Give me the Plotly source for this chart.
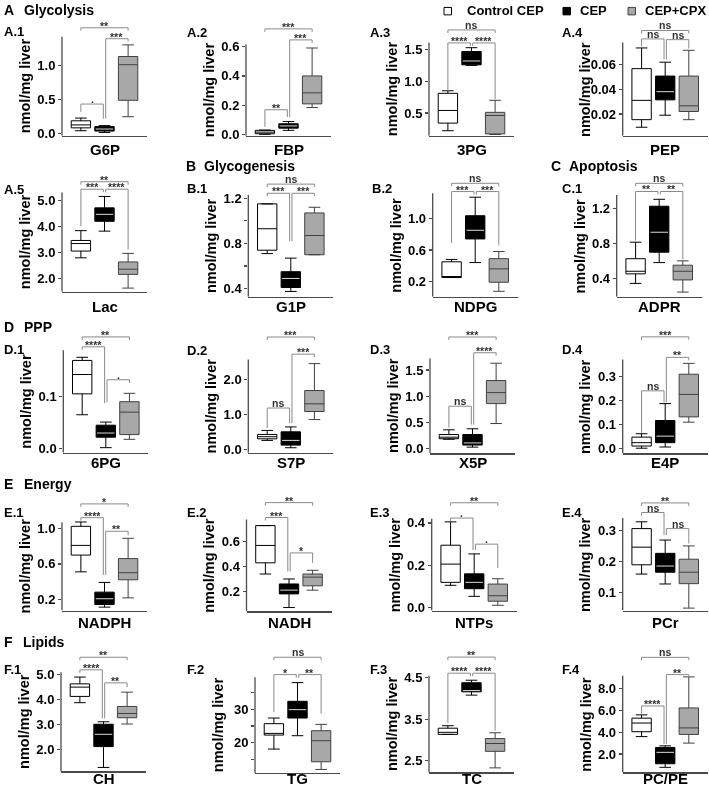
import plotly.graph_objects as go

W, H = 709, 794
FONT = "Arial, Liberation Sans, sans-serif"

# ---------------- data ----------------
panel_ids = ["A.1", "A.2", "A.3", "A.4", "A.5", "B.1", "B.2", "C.1",
             "D.1", "D.2", "D.3", "D.4", "E.1", "E.2", "E.3", "E.4",
             "F.1", "F.2", "F.3", "F.4"]
metabolites = ["G6P", "FBP", "3PG", "PEP", "Lac", "G1P", "NDPG", "ADPR",
               "6PG", "S7P", "X5P", "E4P", "NADPH", "NADH", "NTPs", "PCr",
               "CH", "TG", "TC", "PC/PE"]
group_names = ["Control CEP", "CEP", "CEP+CPX"]

# (lower whisker, q1, median, q3, upper whisker)
control_cep = [
    (0.045, 0.087, 0.13, 0.19, 0.23), (0.003, 0.007, 0.018, 0.03, 0.032),
    (0.22, 0.34, 0.54, 0.81, 0.85), (0.0093, 0.0154, 0.031, 0.0566, 0.0733),
    (2.80, 3.06, 3.35, 3.47, 3.85), (0.71, 0.74, 0.93, 1.15, 1.15),
    (0.25, 0.25, 0.26, 0.45, 0.48), (0.34, 0.45, 0.48, 0.625, 0.815),
    (0.065, 0.105, 0.142, 0.169, 0.175), (0.255, 0.30, 0.36, 0.425, 0.54),
    (0.18, 0.19, 0.22, 0.27, 0.36), (0.002, 0.011, 0.025, 0.048, 0.062),
    (0.51, 0.70, 0.81, 1.026, 1.075), (0.34, 0.43, 0.57, 0.73, 0.73),
    (0.106, 0.12, 0.206, 0.295, 0.405), (0.16, 0.19, 0.247, 0.307, 0.329),
    (3.88, 4.13, 4.50, 4.63, 4.90), (18.1, 22.3, 22.8, 25.7, 27.4),
    (3.13, 3.13, 3.18, 3.28, 3.34), (3.6, 4.05, 4.85, 5.3, 5.6),
]
cep = [
    (0.02, 0.04, 0.07, 0.105, 0.12), (0.03, 0.045, 0.06, 0.075, 0.09),
    (1.25, 1.26, 1.32, 1.47, 1.53), (0.019, 0.0314, 0.038, 0.0506, 0.0618),
    (3.83, 4.21, 4.48, 4.73, 5.17), (0.375, 0.41, 0.49, 0.55, 0.67),
    (0.44, 0.74, 0.85, 1.035, 1.27), (0.58, 0.70, 0.93, 1.23, 1.31),
    (0.002, 0.022, 0.030, 0.045, 0.051), (0.045, 0.12, 0.255, 0.50, 0.64),
    (0.03, 0.07, 0.11, 0.27, 0.38), (0.007, 0.025, 0.052, 0.117, 0.187),
    (0.11, 0.14, 0.205, 0.28, 0.39), (0.07, 0.18, 0.21, 0.26, 0.30),
    (0.054, 0.09, 0.12, 0.16, 0.254), (0.128, 0.166, 0.186, 0.227, 0.27),
    (1.30, 2.13, 2.62, 3.02, 3.12), (22.1, 27.4, 29.9, 32.4, 38.0),
    (4.08, 4.16, 4.19, 4.38, 4.44), (0.77, 1.1, 2.15, 2.6, 2.75),
]
cep_cpx = [
    (0.25, 0.49, 1.01, 1.13, 1.30), (0.185, 0.21, 0.285, 0.40, 0.59),
    (0.16, 0.17, 0.46, 0.51, 0.70), (0.0154, 0.022, 0.0266, 0.0506, 0.0714),
    (1.63, 2.16, 2.36, 2.64, 2.97), (0.70, 0.70, 0.87, 1.07, 1.12),
    (0.075, 0.19, 0.36, 0.49, 0.58), (0.24, 0.38, 0.48, 0.55, 0.60),
    (0.018, 0.027, 0.070, 0.090, 0.106), (0.85, 1.08, 1.30, 1.68, 2.45),
    (0.48, 0.86, 1.07, 1.30, 1.63), (0.11, 0.132, 0.225, 0.309, 0.354),
    (0.215, 0.42, 0.50, 0.66, 0.89), (0.21, 0.245, 0.315, 0.34, 0.37),
    (0.012, 0.031, 0.057, 0.112, 0.137), (0.05, 0.129, 0.166, 0.208, 0.251),
    (3.03, 3.28, 3.45, 3.73, 4.30), (12.0, 14.3, 20.6, 23.6, 25.5),
    (2.32, 2.72, 2.91, 3.03, 3.17), (3.0, 3.8, 4.4, 6.24, 9.1),
]

tick_values = [
    [0, 0.5, 1.0], [0, 0.2, 0.4, 0.6], [0.5, 1.0, 1.5], [0.02, 0.04, 0.06],
    [2, 3, 4, 5], [0.4, 0.6, 0.8, 1.0, 1.2], [0.2, 0.6, 1.0], [0.4, 0.8, 1.2],
    [0, 0.1], [0, 1, 2], [0, 0.5, 1.0, 1.5], [0, 0.1, 0.2, 0.3],
    [0.2, 0.6, 1.0], [0.2, 0.4, 0.6], [0, 0.2, 0.4], [0.1, 0.2, 0.3],
    [2, 3, 4, 5], [15, 20, 25, 30, 35], [2.5, 3.5, 4.5], [2, 4, 6, 8],
]
tick_labels = [
    ["0.0", "0.5", "1.0"], ["0.0", "0.2", "0.4", "0.6"], ["0.5", "1.0", "1.5"], ["0.02", "0.04", "0.06"],
    ["2.0", "3.0", "4.0", "5.0"], ["0.4", "", "0.8", "", "1.2"], ["0.2", "0.6", "1.0"], ["0.4", "0.8", "1.2"],
    ["0.0", "0.1"], ["0.0", "1.0", "2.0"], ["0.0", "0.5", "1.0", "1.5"], ["0.0", "0.1", "0.2", "0.3"],
    ["0.2", "0.6", "1.0"], ["0.2", "0.4", "0.6"], ["0.0", "0.2", "0.4"], ["0.1", "0.2", "0.3"],
    ["2.0", "3.0", "4.0", "5.0"], ["", "20", "", "30", ""], ["2.5", "3.5", "4.5"], ["2.0", "4.0", "6.0", "8.0"],
]

# significance brackets: (group i, group j, level, label, leg end i, leg end j)  None = short leg
brackets = [
    [(1, 2, 0.435, ".", 0.32, 0.22), (2, 3, 1.39, "***", 0.22, 1.35), (1, 3, 1.55, "**", None, None)],
    [(1, 2, 0.17, "**", 0.054, 0.12), (2, 3, 0.645, "***", 0.12, 0.625), (1, 3, 0.72, "***", None, None)],
    [(1, 2, 1.605, "****", 0.85, None), (2, 3, 1.605, "****", None, 0.72), (1, 3, 1.81, "ns", None, None)],
    [(1, 2, 0.0806, "ns", 0.0744, 0.064), (2, 3, 0.080, "ns", 0.064, 0.0728), (1, 3, 0.0874, "ns", None, None)],
    [(1, 2, 5.45, "***", 4.03, None), (2, 3, 5.45, "****", None, 3.12), (1, 3, 5.74, "**", None, None)],
    [(1, 2, 1.244, "***", None, 0.82), (2, 3, 1.244, "***", 0.82, None), (1, 3, 1.325, "ns", None, None)],
    [(1, 2, 1.342, "***", 0.69, None), (2, 3, 1.342, "***", None, 0.657), (1, 3, 1.447, "ns", None, None)],
    [(1, 2, 1.40, "**", 0.834, None), (2, 3, 1.40, "**", None, 0.617), (1, 3, 1.494, "ns", None, None)],
    [(1, 2, 0.195, "****", None, 0.087), (2, 3, 0.132, ".", 0.089, None), (1, 3, 0.214, "**", None, None)],
    [(1, 2, 1.18, "ns", 0.61, 0.75), (2, 3, 2.72, "***", 0.75, None), (1, 3, 3.21, "***", None, None)],
    [(1, 2, 0.81, "ns", 0.40, 0.46), (2, 3, 1.83, "****", 0.46, None), (1, 3, 2.13, "***", None, None)],
    [(1, 2, 0.24, "ns", 0.065, 0.192), (2, 3, 0.379, "**", 0.192, None), (1, 3, 0.464, "***", None, None)],
    [(1, 2, 1.124, "****", None, 0.475), (2, 3, 0.97, "**", 0.475, 0.925), (1, 3, 1.28, "*", None, None)],
    [(1, 2, 0.795, "***", None, 0.36), (2, 3, 0.51, "*", 0.36, 0.43), (1, 3, 0.915, "**", None, None)],
    [(1, 2, 0.423, ".", None, 0.272), (2, 3, 0.30, ".", 0.272, 0.187), (1, 3, 0.495, "**", None, None)],
    [(1, 2, 0.359, "ns", None, 0.286), (2, 3, 0.307, "ns", 0.286, 0.259), (1, 3, 0.39, "**", None, None)],
    [(1, 2, 5.19, "****", None, 3.25), (2, 3, 4.67, "**", 3.25, 4.50), (1, 3, 5.69, "**", None, None)],
    [(1, 2, 40.4, "*", 29.2, None), (2, 3, 40.4, "**", None, 28.7), (1, 3, 45.6, "ns", None, None)],
    [(1, 2, 4.61, "****", 3.40, None), (2, 3, 4.61, "****", None, 3.22), (1, 3, 5.0, "**", None, None)],
    [(1, 2, 6.42, "****", 5.72, 2.91), (2, 3, 9.31, "**", 2.91, None), (1, 3, 10.9, "ns", None, None)],
]

sections = [("A", "Glycolysis"), ("B", "Glycogenesis"), ("C", "Apoptosis"),
            ("D", "PPP"), ("E", "Energy"), ("F", "Lipids")]

# ---------------- layout (pixels) ----------------
# axis values at the bottom / top of the drawn y axis line
axis_ranges = [
    (-0.029, 1.42), (-0.007, 0.613), (0.14, 1.61), (0.0024, 0.0776),
    (1.49, 5.32), (0.329, 1.229), (0.007, 1.32), (0.187, 1.36),
    (-0.0076, 0.1886), (-0.096, 2.567), (-0.087, 1.72), (-0.019, 0.37),
    (0.071, 1.071), (0.04, 0.78), (-0.013, 0.42), (0.042, 0.341),
    (1.14, 5.09), (10.9, 39.6), (2.21, 4.55), (0.30, 9.21),
]
# (left x, axis top y, axis bottom y) in pixels
panel_px = [
    (62, 37, 137), (246, 45, 137), (429, 43, 137), (622.7, 43, 137),
    (62, 194.3, 294.3), (248.3, 196.7, 299.3), (432.7, 195, 299.3), (616.7, 196.7, 299.3),
    (63.3, 353.3, 456.7), (248.3, 362.7, 456.7), (430, 361.7, 457.3), (622.7, 362.7, 457.3),
    (62, 527, 616), (246.5, 524, 616.7), (431.7, 523.3, 616), (622.7, 522.7, 616),
    (61, 678.3, 778.3), (255, 683.3, 780), (429, 681.7, 779.3), (622.7, 681.7, 779.3),
]
panel_label_pos = [
    (2, 32), (185, 33), (368, 33), (560, 33),
    (2, 191), (185, 190), (370, 190), (560, 190),
    (2, 353), (185, 354), (368, 353), (560, 353),
    (2, 517), (185, 517), (368, 517), (560, 517),
    (2, 675), (185, 675), (368, 675), (560, 675),
]
category_label_y = [151, 309, 467, 628, 785]
section_pos = [(3, 23, 10), (185, 203, 167), (550, 568, 167),
               (3, 23, 330), (3, 23, 488), (3, 22, 648)]

X_RANGE = [0.2, 3.8]
PANEL_W = 85
EXTRA = 40
BOX_W = 0.82
SHORT_PX = 3
AXC = "#4a4a4a"
BRC = "#8a8a8a"
fills = ["white", "black", "#a8a8a8"]
lines = ["black", "black", "#404040"]

fig = go.Figure()
shapes, annotations = [], []


def bold(size, color="black"):
    return dict(family=FONT, size=size, color=color, weight="bold")


for k in range(20):
    n = k + 1
    sfx = "" if n == 1 else str(n)
    xs, ys = "x" + sfx, "y" + sfx
    left, top, bottom = panel_px[k]
    vb, vt = axis_ranges[k]
    upp = (vt - vb) / (bottom - top)
    dtop = max(top - EXTRA, 2)
    rtop = vt + (top - dtop) * upp

    fig.update_layout(**{
        "xaxis" + sfx: dict(domain=[left / W, (left + PANEL_W) / W], range=X_RANGE,
                            anchor=ys, showline=True, linecolor=AXC, linewidth=1.3,
                            ticks="", showticklabels=False, showgrid=False,
                            zeroline=False, fixedrange=True),
        "yaxis" + sfx: dict(domain=[1 - bottom / H, 1 - dtop / H], range=[vb, rtop],
                            anchor=xs, showline=False, ticks="outside", ticklen=3,
                            tickwidth=1.2, tickcolor=AXC, tickvals=tick_values[k],
                            ticktext=tick_labels[k], tickfont=bold(13),
                            showgrid=False, zeroline=False, fixedrange=True),
    })

    for g, stats in enumerate([control_cep, cep, cep_cpx]):
        lo, q1, med, q3, hi = stats[k]
        fig.add_trace(go.Box(
            x=[g + 1], q1=[q1], median=[med], q3=[q3], lowerfence=[lo], upperfence=[hi],
            width=BOX_W, fillcolor=fills[g], line=dict(color=lines[g], width=1),
            whiskerwidth=0.6, boxpoints=False, name=group_names[g],
            xaxis=xs, yaxis=ys, showlegend=False, hoverinfo="skip"))
        if g == 1:
            fig.add_trace(go.Scatter(
                x=[2 - BOX_W / 2 + 0.04, 2 + BOX_W / 2 - 0.04], y=[med, med], mode="lines",
                line=dict(color="#dcdcdc", width=1), xaxis=xs, yaxis=ys,
                showlegend=False, hoverinfo="skip"))

    # y axis line only over the labelled part
    shapes.append(dict(type="line", xref=xs + " domain", yref=ys, x0=0, x1=0,
                       y0=vb, y1=vt, line=dict(color=AXC, width=1.3)))

    for (i, j, level, label, ei, ej) in brackets[k]:
        xi = i + (0.05 if i == 2 else 0)
        xj = j - (0.05 if j == 2 else 0)
        yi = ei if ei is not None else level - SHORT_PX * upp
        yj = ej if ej is not None else level - SHORT_PX * upp
        shapes.append(dict(type="path", xref=xs, yref=ys,
                           path=f"M {xi},{yi} L {xi},{level} L {xj},{level} L {xj},{yj}",
                           line=dict(color=BRC, width=1)))
        ysh = -2 if label in ("ns", ".") else -5
        annotations.append(dict(xref=xs, yref=ys, x=(xi + xj) / 2, y=level, text=label,
                                showarrow=False, yanchor="bottom", xanchor="center",
                                yshift=ysh, borderpad=0,
                                font=bold(10.5, "#303030")))

    # y title
    annotations.append(dict(xref="paper", yref="paper", x=(left - 37) / W,
                            y=1 - ((top + bottom) / 2) / H, text="nmol/mg liver",
                            textangle=-90, showarrow=False, xanchor="center",
                            yanchor="middle", font=bold(14.5)))
    # category label
    annotations.append(dict(xref="paper", yref="paper", x=(left + PANEL_W / 2) / W,
                            y=1 - category_label_y[k // 4] / H, text=metabolites[k],
                            showarrow=False, xanchor="center", yanchor="middle",
                            borderpad=0, font=bold(15)))
    # panel label
    px_, py_ = panel_label_pos[k]
    annotations.append(dict(xref="paper", yref="paper", x=px_ / W, y=1 - py_ / H,
                            text=panel_ids[k], showarrow=False, xanchor="left",
                            yanchor="middle", font=bold(13)))

# section headings
for (letter, word), (lx, wx, sy) in zip(sections, section_pos):
    annotations.append(dict(xref="paper", yref="paper", x=lx / W, y=1 - sy / H, text=letter,
                            showarrow=False, xanchor="left", yanchor="middle",
                            borderpad=0, font=bold(14)))
    annotations.append(dict(xref="paper", yref="paper", x=wx / W, y=1 - sy / H, text=word,
                            showarrow=False, xanchor="left", yanchor="middle",
                            borderpad=0, font=bold(14)))

# legend
legend_items = [(444, 465), (563, 578), (628, 643)]
for g, (sx, tx) in enumerate(legend_items):
    shapes.append(dict(type="rect", xref="paper", yref="paper", x0=sx / W, x1=(sx + 7.5) / W,
                       y0=1 - 15 / H, y1=1 - 7.5 / H, fillcolor=fills[g],
                       line=dict(color=lines[g] if g != 0 else "black", width=1)))
    annotations.append(dict(xref="paper", yref="paper", x=tx / W, y=1 - 11 / H,
                            text=group_names[g], showarrow=False, xanchor="left",
                            yanchor="middle", font=bold(13)))

fig.update_layout(width=W, height=H, margin=dict(l=0, r=0, t=0, b=0),
                  paper_bgcolor="white", plot_bgcolor="rgba(0,0,0,0)",
                  showlegend=False, shapes=shapes, annotations=annotations,
                  boxmode="overlay")

fig.write_html(
    "out.html",
    config={"displayModeBar": False, "staticPlot": True},
    post_script=("document.body.style.margin='0';"
                 "document.body.style.overflow='hidden';"
                 "document.querySelectorAll('.plotly-graph-div').forEach("
                 "function(d){d.style.filter='grayscale(1)';});"),
)
